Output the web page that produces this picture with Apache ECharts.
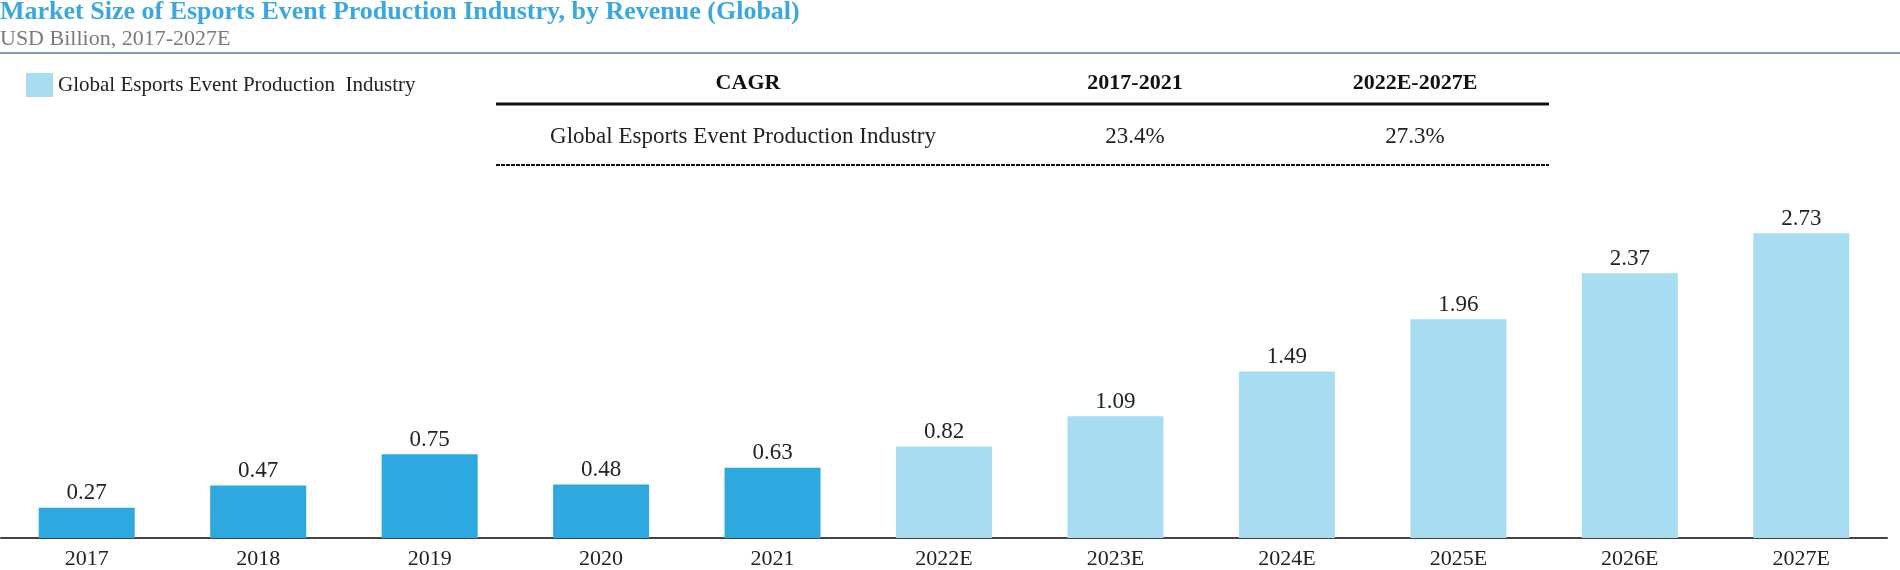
<!DOCTYPE html>
<html>
<head>
<meta charset="utf-8">
<script src="https://cdn.jsdelivr.net/npm/echarts@6/dist/echarts.min.js"></script>
<style>
html,body{margin:0;padding:0;background:#fff;}
#chart{width:1900px;height:570px;}
</style>
</head>
<body>
<div id="chart"></div>
<script>
const categories = ['2017','2018','2019','2020','2021','2022E','2023E','2024E','2025E','2026E','2027E'];
const values = [0.27,0.47,0.75,0.48,0.63,0.82,1.09,1.49,1.96,2.37,2.73];
const actualCount = 5; // 2017-2021 are actual values
const seriesName = 'Global Esports Event Production  Industry';
const titleText = 'Market Size of Esports Event Production Industry, by Revenue (Global)';
const subtitleText = 'USD Billion, 2017-2027E';
const cagrHeader = ['CAGR','2017-2021','2022E-2027E'];
const cagrRow = ['Global Esports Event Production Industry','23.4%','27.3%'];

const DARK = '#2EA9E0';
const LIGHT = '#A8DDF1';
const FONT = '"Liberation Serif","Times New Roman",serif';

const chart = echarts.init(document.getElementById('chart'));
const data = values.map((v,i)=>({value:v,itemStyle:{color:i<actualCount?DARK:LIGHT}}));

const colX = [748,1135,1415];
const graphics = [
  {type:'text',left:0,top:-1,style:{text:titleText,fill:'#3AA8DF',font:'bold 26px '+FONT}},
  {type:'text',left:0,top:28,style:{text:subtitleText,fill:'#7a7a7a',font:'22px '+FONT}},
  {type:'line',shape:{x1:0,y1:53,x2:1900,y2:53},style:{stroke:'#8497B3',lineWidth:2}},
  {type:'line',shape:{x1:496,y1:104,x2:1549,y2:104},style:{stroke:'#111',lineWidth:3}},
  {type:'line',shape:{x1:496,y1:165,x2:1549,y2:165},style:{stroke:'#111',lineWidth:2,lineDash:[4,1]}}
];
cagrHeader.forEach((t,i)=>graphics.push({type:'text',x:colX[i],y:83,style:{text:t,fill:'#111',font:'bold 22px '+FONT,align:'center',verticalAlign:'middle'}}));
cagrRow.forEach((t,i)=>graphics.push({type:'text',x:i===0?743:colX[i],y:137,style:{text:t,fill:'#222',font:'23px '+FONT,align:'center',verticalAlign:'middle'}}));

chart.setOption({
  animation:false,
  legend:{
    left:21,top:68,itemWidth:27,itemHeight:24,itemGap:10,icon:'rect',
    textStyle:{fontFamily:FONT,fontSize:21,color:'#222'},
    data:[{name:seriesName,itemStyle:{color:LIGHT}}]
  },
  grid:{left:1,right:13,top:203,bottom:30,containLabel:false},
  xAxis:{
    type:'category',data:categories,
    axisLine:{lineStyle:{color:'#444',width:2}},
    axisTick:{show:false},
    axisLabel:{fontFamily:FONT,fontSize:22,color:'#222',margin:10}
  },
  yAxis:{type:'value',min:0,max:3,show:false,splitLine:{show:false}},
  series:[{
    name:seriesName,type:'bar',data:data,barWidth:'56%',
    itemStyle:{color:LIGHT},
    label:{show:true,position:'top',distance:3,fontFamily:FONT,fontSize:23,color:'#222',formatter:p=>p.value.toFixed(2)}
  }],
  graphic:graphics
});
</script>
</body>
</html>
